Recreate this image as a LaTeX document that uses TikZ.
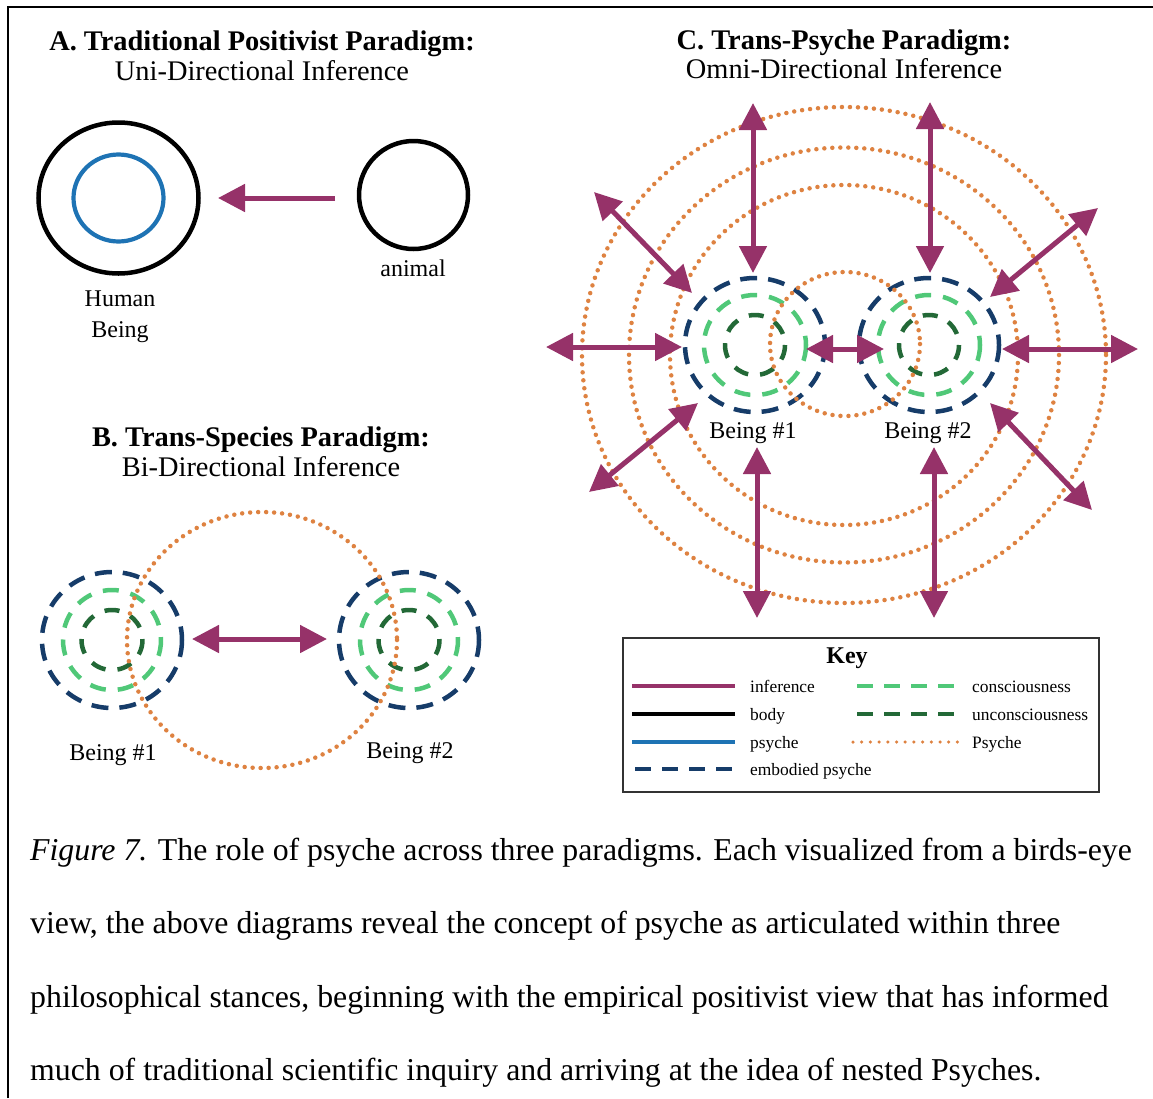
\documentclass[tikz,border=0pt]{standalone}
\usepackage{fontspec}
\setmainfont{Liberation Serif}
\usetikzlibrary{arrows.meta}
\definecolor{mag}{RGB}{150,50,105}
\definecolor{psyblue}{RGB}{30,115,180}
\definecolor{navy}{RGB}{22,60,105}
\definecolor{lgreen}{RGB}{80,200,120}
\definecolor{dgreen}{RGB}{35,105,55}
\definecolor{orng}{RGB}{222,130,65}
\tikzset{
  mytip/.tip={Triangle[length=27pt,width=27pt]},
  ttl/.style={font=\fontsize{28.4}{34}\selectfont\bfseries, anchor=base, inner sep=0pt},
  sub/.style={font=\fontsize{28.4}{34}\selectfont, anchor=base, inner sep=0pt},
  lbl/.style={font=\fontsize{24}{28}\selectfont, anchor=base, inner sep=0pt},
  keyttl/.style={font=\fontsize{24}{28}\selectfont\bfseries, anchor=base, inner sep=0pt},
  keytxt/.style={font=\fontsize{17.4}{20}\selectfont, anchor=base west, inner sep=0pt},
  captxt/.style={font=\fontsize{31.8}{38}\selectfont, anchor=base west, inner sep=0pt},
  body/.style={draw=black, line width=4.5pt},
  psy/.style={draw=psyblue, line width=4.2pt},
  emb/.style={draw=navy, line width=4.5pt, dash pattern=on 17pt off 11pt},
  con/.style={draw=lgreen, line width=4.5pt, dash pattern=on 16pt off 12pt},
  unc/.style={draw=dgreen, line width=4.5pt, dash pattern=on 15pt off 12pt},
  psydot/.style={draw=orng, line width=4.5pt, line cap=round, dash pattern=on 0pt off 8pt},
  inf/.style={draw=mag, line width=5pt},
  uni/.style={inf, -mytip},
  bi/.style={inf, mytip-mytip},
}
\begin{document}
\begin{tikzpicture}[x=1pt,y=-1pt]
\useasboundingbox (0,0) rectangle (1153,1098);
% frame
\draw[line width=2pt] (8,1098) -- (8,6.5) -- (1153,6.5);

% ---------- Panel A ----------
\node[ttl] (tA) at (262,50) {A. Traditional Positivist Paradigm:};
\node[sub] (sA) at (262,80) {Uni-Directional Inference};
\coordinate (hum) at (118.5,198);
\draw[body] (hum) ellipse [x radius=80, y radius=75.5];
\draw[psy] (hum) ellipse [x radius=45, y radius=43.5];
\coordinate (ani) at (413.5,195);
\draw[body] (ani) ellipse [x radius=54.5, y radius=54];
\coordinate (aS) at (335,198);
\coordinate (aE) at (218,198);
\draw[uni] (aS) -- (aE);
\node[lbl] (lani) at (413,276) {animal};
\node[lbl] (lhum) at (120,306) {Human};
\node[lbl] (lbei) at (120,337) {Being};

% ---------- Panel B ----------
\node[ttl] (tB) at (261,446) {B. Trans-Species Paradigm:};
\node[sub] (sB) at (261,476) {Bi-Directional Inference};
\coordinate (b1) at (112,640);
\coordinate (b2) at (409,640);
\foreach \c in {b1,b2}{
  \draw[emb] (\c) ellipse [x radius=70, y radius=68];
  \draw[con] (\c) ellipse [x radius=49, y radius=50];
  \draw[unc] (\c) ellipse [x radius=30.5, y radius=30];
}
\coordinate (bP) at (262,640);
\draw[psydot] (bP) ellipse [x radius=135, y radius=128];
\coordinate (bS) at (192,639);
\coordinate (bE) at (327,639);
\draw[bi] (bS) -- (bE);
\node[lbl] (lb1) at (113,760) {Being \#1};
\node[lbl] (lb2) at (410,758) {Being \#2};

% ---------- Panel C ----------
\node[ttl] (tC) at (844,49) {C. Trans-Psyche Paradigm:};
\node[sub] (sC) at (844,78) {Omni-Directional Inference};
\coordinate (c1) at (755,345);
\coordinate (c2) at (929,345);
\foreach \c in {c1,c2}{
  \draw[emb] (\c) ellipse [x radius=70, y radius=67];
  \draw[con] (\c) ellipse [x radius=51, y radius=50];
  \draw[unc] (\c) ellipse [x radius=30, y radius=30];
}
\coordinate (cP) at (845,344);
\draw[psydot] (cP) ellipse [x radius=75, y radius=72];
\coordinate (cR) at (844,355);
\draw[psydot] (cR) ellipse [x radius=174, y radius=170];
\draw[psydot] (cR) ellipse [x radius=215, y radius=207.5];
\draw[psydot] (cR) ellipse [x radius=262, y radius=248];
% arrows
\coordinate (u1a) at (753,103); \coordinate (u1b) at (753,273);
\coordinate (u2a) at (930,102); \coordinate (u2b) at (930,273);
\coordinate (d1a) at (594,192); \coordinate (d1b) at (692,293);
\coordinate (d2a) at (1098,208); \coordinate (d2b) at (990,297);
\coordinate (h1a) at (546,347); \coordinate (h1b) at (682,347);
\coordinate (h2a) at (806,349); \coordinate (h2b) at (884,349);
\coordinate (h3a) at (1002,349); \coordinate (h3b) at (1138,349);
\coordinate (d3a) at (698,403); \coordinate (d3b) at (589,492);
\coordinate (d4a) at (990,403); \coordinate (d4b) at (1092,510);
\coordinate (v1a) at (757,447); \coordinate (v1b) at (757,618);
\coordinate (v2a) at (934,447); \coordinate (v2b) at (934,618);
\foreach \p in {u1,u2,d1,d2,h1,h2,h3,d3,d4,v1,v2}{
  \draw[bi] (\p a) -- (\p b);
}
\node[lbl] (lc1) at (753,438) {Being \#1};
\node[lbl] (lc2) at (928,438) {Being \#2};

% ---------- Key ----------
\node[draw=black!80, line width=2pt, minimum width=476pt, minimum height=154pt, anchor=north west, inner sep=0pt] (key) at (622,637) {};
\node[keyttl] (kt) at (847,663) {Key};
\coordinate (k1a) at (632,686); \coordinate (k1b) at (735,686);
\coordinate (k2a) at (632,714); \coordinate (k2b) at (735,714);
\coordinate (k3a) at (632,742); \coordinate (k3b) at (735,742);
\coordinate (k4a) at (635,769); \coordinate (k4b) at (735,769);
\coordinate (k5a) at (857,686); \coordinate (k5b) at (960,686);
\coordinate (k6a) at (857,714); \coordinate (k6b) at (960,714);
\coordinate (k7a) at (853,742); \coordinate (k7b) at (960,742);
\draw[inf, line width=4pt] (k1a) -- (k1b);
\draw[body, line width=4pt] (k2a) -- (k2b);
\draw[psy, line width=4pt] (k3a) -- (k3b);
\draw[emb, line width=4pt, dash pattern=on 16pt off 11pt] (k4a) -- (k4b);
\draw[con, line width=4pt, dash pattern=on 16pt off 11pt] (k5a) -- (k5b);
\draw[unc, line width=4pt, dash pattern=on 16pt off 11pt] (k6a) -- (k6b);
\draw[psydot, line width=3.5pt, dash pattern=on 0pt off 8.7pt] (k7a) -- (k7b);
\node[keytxt] (t1) at (750,692) {inference};
\node[keytxt] (t2) at (750,720) {body};
\node[keytxt] (t3) at (750,748) {psyche};
\node[keytxt] (t4) at (750,775) {embodied psyche};
\node[keytxt] (t5) at (972,692) {consciousness};
\node[keytxt] (t6) at (972,720) {unconsciousness};
\node[keytxt] (t7) at (972,748) {Psyche};

% ---------- Caption ----------
\node[captxt] (cap1) at (30,860) {\textit{Figure 7.} The role of psyche across three paradigms. Each visualized from a birds-eye};
\node[captxt] (cap2) at (30,933) {view, the above diagrams reveal the concept of psyche as articulated within three};
\node[captxt] (cap3) at (30,1007) {philosophical stances, beginning with the empirical positivist view that has informed};
\node[captxt] (cap4) at (30,1080) {much of traditional scientific inquiry and arriving at the idea of nested Psyches.};
\end{tikzpicture}
\end{document}
